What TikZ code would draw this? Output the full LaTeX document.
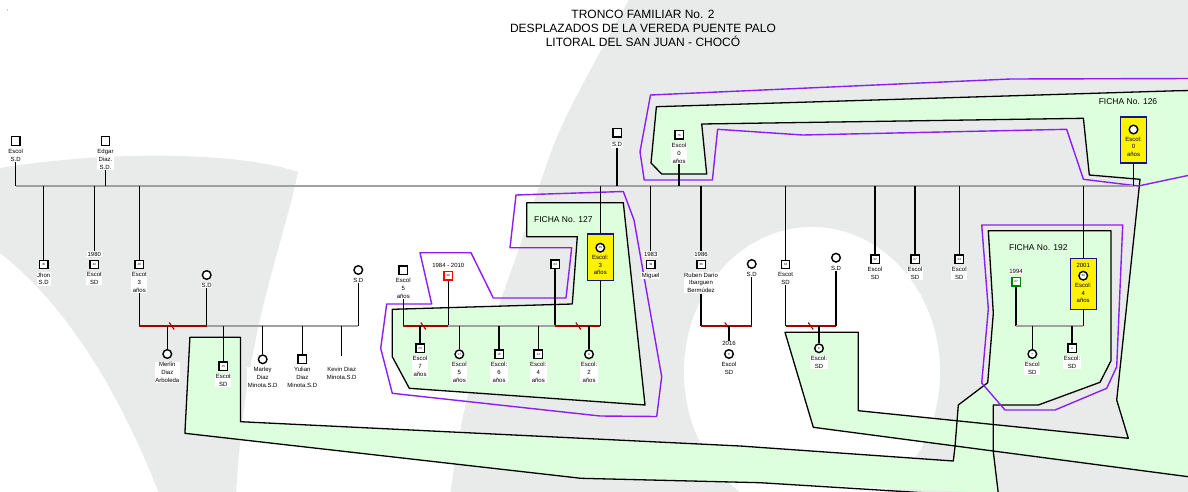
\documentclass[tikz,border=0pt]{standalone}
\usepackage{fontspec}
\setmainfont{Liberation Sans}
\usetikzlibrary{positioning}

\definecolor{fondo}{RGB}{233,235,235}
\definecolor{verdeficha}{RGB}{221,255,221}
\definecolor{morado}{RGB}{140,30,245}
\definecolor{rojosep}{RGB}{165,0,0}
\definecolor{grislinea}{RGB}{160,160,160}
\definecolor{azulbox}{RGB}{20,20,130}
\definecolor{verdeborde}{RGB}{0,130,0}

\tikzset{
  sq/.style={draw, line width=1.4pt, fill=white, rectangle, minimum size=8.4pt, inner sep=0pt, font=\fontsize{3}{3}\selectfont},
  ci/.style={draw, line width=1.4pt, fill=white, circle, minimum size=8.6pt, inner sep=0pt, font=\fontsize{3}{3}\selectfont},
  lbl/.style={fill=white, inner sep=0.6pt, align=center, font=\fontsize{6}{7.8}\selectfont},
  ytxt/.style={inner sep=0.6pt, align=center, font=\fontsize{6}{7.8}\selectfont},
  ybox/.style={draw=azulbox, line width=1.3pt, fill=yellow, minimum width=26pt, inner sep=0pt},
  trunk/.style={draw=grislinea, line width=1.8pt},
  kin/.style={draw=black, line width=1.4pt},
  wed/.style={draw=grislinea, line width=1.6pt},
  sepwed/.style={draw=rojosep, line width=1.6pt},
  borde/.style={draw=black, line width=1.3pt, line join=round},
  contorno/.style={draw=morado, line width=1.4pt, line join=round},
  ficha/.style={font=\fontsize{8.5}{10}\selectfont},
}

\begin{document}
\begin{tikzpicture}[x=1pt,y=-1pt]
    \useasboundingbox (0,0) rectangle (1188,492);
    % fondo
    \fill[white] (0,0) rectangle (1188,492);
    \fill[fondo] plot[smooth] coordinates {(450,496) (468,395) (515,260) (560,130) (631,-4)} -- (1192,-4) -- (1192,496) -- cycle;
    \fill[white] (812,372) ellipse [x radius=128pt, y radius=145pt];
    \fill[fondo] (0,168) .. controls (110,150) and (240,152) .. (298,172) .. controls (282,250) and (245,330) .. (236,496) -- (160,496) .. controls (115,380) and (60,300) .. (0,253) -- cycle;

    % zonas de las fichas
    \fill[verdeficha] (656.4,106.7) -- (1178.5,90.7) -- (1195,90.5) -- (1195,477.6) -- (813.3,427.3) -- (785,332.3) -- (858.3,332.3) -- (858.3,410.7) -- (1128.3,438.3) -- (1116.7,400) -- (1139.3,186) -- (1140,179.3) -- (1089.3,175) -- (1083.4,118.3) -- (701.7,124) -- (706.7,174) -- (661.7,174) -- (651,163) -- cycle;
    \fill[verdeficha] (988.3,230.7) -- (1111,230.7) -- (1111,360.7) -- (1100,382.3) -- (1038.3,405) -- (993.3,405) -- (993.3,451.7) -- (998.6,496) -- (976,496) -- (966.7,491.7) -- (760,482.7) -- (581,478.3) -- (184.9,433.3) -- (189.9,337.3) -- (240.4,337.3) -- (240.4,421.7) -- (740,446) -- (953.3,461) -- (955,446.7) -- (958.3,405) -- (987.7,382.7) -- (993.3,313.3) -- cycle;
    \draw[borde] (1195,90.5) -- (1178.5,90.7) -- (656.4,106.7) -- (651,163) -- (661.7,174) -- (706.7,174) -- (701.7,124) -- (1083.4,118.3) -- (1089.3,175) -- (1140,179.3) -- (1139.3,186) -- (1116.7,400) -- (1128.3,438.3) -- (858.3,410.7) -- (858.3,332.3) -- (785,332.3) -- (813.3,427.3) -- (1195,477.6);
    \draw[borde] (998.6,496) -- (993.3,451.7) -- (993.3,405) -- (1038.3,405) -- (1100,382.3) -- (1111,360.7) -- (1111,230.7) -- (988.3,230.7) -- (993.3,313.3) -- (987.7,382.7) -- (958.3,405) -- (955,446.7) -- (953.3,461) -- (740,446) -- (240.4,421.7) -- (240.4,337.3) -- (189.9,337.3) -- (184.9,433.3) -- (581,478.3) -- (760,482.7) -- (976,496);
    \draw[borde, fill=verdeficha] (526.7,202.7) -- (623.3,202.7) -- (645,405) -- (409.3,388.3) -- (392.3,356.7) -- (392.3,309.3) -- (572.3,304) -- (577.3,236.7) -- (526.7,236.7) -- cycle;

    % contornos morados
    \draw[contorno] (1195,78.5) -- (1010.6,79) -- (650.5,95) -- (640,151.7) -- (644.2,180) -- (712.4,180) -- (717.6,129.3) -- (802.6,135) -- (1066.6,129.3) -- (1083.4,179.3) -- (1138.3,186) -- (1195,174);
    \draw[contorno] (420,252.7) -- (471,252.7) -- (493.3,298) -- (566,298) -- (571.7,247.7) -- (510,247.7) -- (516,195) -- (623.3,191.5) -- (634,220) -- (661.7,376.7) -- (656.7,416.5) -- (600,416) -- (392.3,393.3) -- (380.7,348.3) -- (386.7,304) -- (431.7,304) -- cycle;
    \draw[contorno] (981.7,225) -- (1122.7,225) -- (1116.7,366.7) -- (1106.7,388.3) -- (1055,410) -- (1005,410) -- (981.7,383) -- (988.3,309) -- cycle;

    \coordinate (tr) at (0,186);
    \coordinate (mar) at (0,326);

    % generacion de arriba
    \node[sq] (escA) at (15.7,141) {};
    \node[lbl, below=2.5pt of escA] (escAl) {Escol\\S.D};
    \node[sq] (edgar) at (105.5,141) {};
    \node[lbl, below=2.5pt of edgar] (edgarl) {Edgar\\Diaz.\\S.D.};
    \node[sq] (sdtop) at (617,133) {};
    \node[lbl, below=4pt of sdtop] (sdtopl) {S.D};
    \node[sq] (p76) at (679,135) {76};
    \node[lbl, below=2.5pt of p76] (p76l) {Escol\\0\\años};
    \node[ybox, minimum height=46pt] (y126) at (1133.5,140) {};
    \node[ci] (c126) at (1133.5,129.5) {};
    \node[ytxt, below=1.5pt of c126] (c126l) {Escol:\\0\\años};

    % hijos
    \node[sq] (jhon) at (43.7,264.5) {45};
    \node[lbl, below=2.5pt of jhon] (jhonl) {Jhon\\S.D};
    \node[sq] (p42) at (94.3,264.5) {42};
    \node[lbl, above=2.5pt of p42] (p42y) {1980};
    \node[lbl, below=2.5pt of p42] (p42l) {Escot\\SD};
    \node[sq] (p40) at (139.3,264.5) {40};
    \node[lbl, below=2.5pt of p40] (p40l) {Escot\\3\\años};
    \node[ybox, minimum height=46.7pt] (y127) at (600.3,257.3) {};
    \node[ci] (c39) at (600.3,247.7) {39};
    \node[ytxt, below=1.5pt of c39] (c39l) {Escol:\\3\\años};
    \node[sq] (miguel) at (650.7,264.5) {39};
    \node[lbl, above=2.5pt of miguel] (miguely) {1983};
    \node[lbl, below=2.5pt of miguel] (miguell) {Miguel};
    \node[sq] (ruben) at (701,264.5) {36};
    \node[lbl, above=2.5pt of ruben] (rubeny) {1986};
    \node[lbl, below=2.5pt of ruben] (rubenl) {Ruben Dario\\Ibarguen\\Bermúdez};
    \node[sq] (p34b) at (785.5,264.5) {34};
    \node[lbl, below=2.5pt of p34b] (p34bl) {Escot\\SD};
    \node[sq] (p32) at (875,259) {32};
    \node[lbl, below=2.5pt of p32] (p32l) {Escol\\SD};
    \node[sq] (p27) at (915,259) {27};
    \node[lbl, below=2.5pt of p27] (p27l) {Escol\\SD};
    \node[sq] (p24) at (959.3,259) {24};
    \node[lbl, below=2.5pt of p24] (p24l) {Escol\\SD};
    \node[ybox, minimum height=51pt] (y192) at (1083.2,283.8) {};
    \node[ytxt] (y192y) at (1083.2,265) {2001};
    \node[ci] (c20) at (1083.2,275.7) {20};
    \node[ytxt, below=1.5pt of c20] (c20l) {Escol:\\4\\años};

    % parejas
    \node[ci] (fsd1) at (206.7,275) {};
    \node[lbl, below=2.5pt of fsd1] (fsd1l) {S.D};
    \node[ci] (fsd2) at (358.3,270) {};
    \node[lbl, below=2.5pt of fsd2] (fsd2l) {S.D};
    \node[sq] (p5) at (403.3,270) {};
    \node[lbl, below=2.5pt of p5] (p5l) {Escol\\5\\años};
    \node[sq, draw=red] (p26) at (448.3,275.7) {26};
    \node[lbl, above=2.5pt of p26] (p26y) {1984 - 2010};
    \node[sq] (p34a) at (555,264.3) {34};
    \node[ci] (fsd3) at (751.7,264) {};
    \node[lbl, below=2.5pt of fsd3] (fsd3l) {S.D};
    \node[ci] (fsd4) at (836,257.7) {};
    \node[lbl, below=2.5pt of fsd4] (fsd4l) {S.D};
    \node[sq, draw=verdeborde] (p27g) at (1016,281.7) {27};
    \node[lbl, above=2.5pt of p27g] (p27gy) {1994};

    % nietos
    \node[ci] (merlin) at (167.3,354) {};
    \node[lbl, below=2.5pt of merlin] (merlinl) {Merlin\\Diaz\\Arboleda};
    \node[sq] (p15) at (223.3,366) {15};
    \node[lbl, below=2.5pt of p15] (p15l) {Escot\\SD};
    \node[ci] (marley) at (262.7,359.3) {};
    \node[lbl, below=2.5pt of marley] (marleyl) {Marley\\Diaz\\Minota.S.D};
    \node[sq] (yulian) at (302.3,359.3) {};
    \node[lbl, below=2.5pt of yulian] (yulianl) {Yulian\\Diaz\\Minota.S.D};
    \coordinate (kevin) at (341.7,356);
    \node[lbl, anchor=north] (kevinl) at (341.7,366.3) {Kevin Diaz\\Minota.S.D};
    \node[sq] (p23) at (420,348.3) {23};
    \node[lbl, below=2.5pt of p23] (p23l) {Escol\\7\\años};
    \node[ci] (p17) at (459.3,354.3) {17};
    \node[lbl, below=2.5pt of p17] (p17l) {Escol\\5\\años};
    \node[sq] (p16) at (499,354.3) {16};
    \node[lbl, below=2.5pt of p16] (p16l) {Escol:\\6\\años};
    \node[sq] (p14) at (538.3,354.3) {14};
    \node[lbl, below=2.5pt of p14] (p14l) {Escol:\\4\\años};
    \node[ci] (p9) at (589,354.3) {9};
    \node[lbl, below=2.5pt of p9] (p9l) {Escol:\\2\\años};
    \node[ci] (p6a) at (729,354) {6};
    \node[lbl, above=2.5pt of p6a] (p6ay) {2016};
    \node[lbl, below=2.5pt of p6a] (p6al) {Escol\\SD};
    \node[ci] (p6b) at (819,348.3) {6};
    \node[lbl, below=2.5pt of p6b] (p6bl) {Escol:\\SD};
    \node[ci] (p7) at (1032.3,354) {7};
    \node[lbl, below=2.5pt of p7] (p7l) {Escol\\SD};
    \node[sq] (p3) at (1072,348.3) {3};
    \node[lbl, below=2.5pt of p3] (p3l) {Escol:\\SD};

    % tronco y lineas
    \draw[trunk] (escA |- tr) -- (y126 |- tr);
    \foreach \n in {escAl,edgarl,sdtopl,p76l,y126}
        \draw[kin] (\n) -- (\n |- tr);
    \foreach \n in {jhon,p42y,p40,y127,miguely,rubeny,p34b,p32,p27,p24,y192}
        \draw[kin] (\n |- tr) -- (\n);

    \foreach \n in {p40l,fsd1l,fsd2l,p5l,p26,p34a,y127,rubenl,fsd3l,p34bl,fsd4l,p27g,y192}
        \draw[kin] (\n) -- (\n |- mar);
    \draw[sepwed] (p40l |- mar) -- (fsd1l |- mar);
    \draw[wed] (fsd1l |- mar) -- (fsd2l |- mar);
    \draw[sepwed] (p5l |- mar) -- (p26 |- mar);
    \draw[wed] (p26 |- mar) -- (p34a |- mar);
    \draw[sepwed] (p34a |- mar) -- (y127 |- mar);
    \draw[sepwed] (rubenl |- mar) -- (fsd3l |- mar);
    \draw[sepwed] (p34bl |- mar) -- (fsd4l |- mar);
    \draw[wed] (p27g |- mar) -- (y192 |- mar);
    \foreach \sx in {171.7,423.3,578.3,727.3,810.7}
        \draw[sepwed, line width=1.1pt] (\sx-2.5,322.5) -- (\sx+2.5,329.5);

    \foreach \n in {merlin,p15,marley,yulian,kevin,p23,p17,p16,p14,p9,p6ay,p6b,p7,p3}
        \draw[kin] (\n |- mar) -- (\n);

    % rotulos
    \node[ficha] (f127) at (563.3,219.3) {FICHA No. 127};
    \node[ficha] (f192) at (1038.3,247.3) {FICHA No. 192};
    \node[ficha] (f126) at (1128,101.7) {FICHA No. 126};
    \node[align=center, font=\fontsize{12}{14}\selectfont] (titulo) at (643,28) {TRONCO FAMILIAR No. 2\\DESPLAZADOS DE LA VEREDA PUENTE PALO\\LITORAL DEL SAN JUAN - CHOCÓ};
    \node[font=\fontsize{5}{5}\selectfont, inner sep=0pt] (marca) at (8,12) {'};
\end{tikzpicture}
\end{document}
